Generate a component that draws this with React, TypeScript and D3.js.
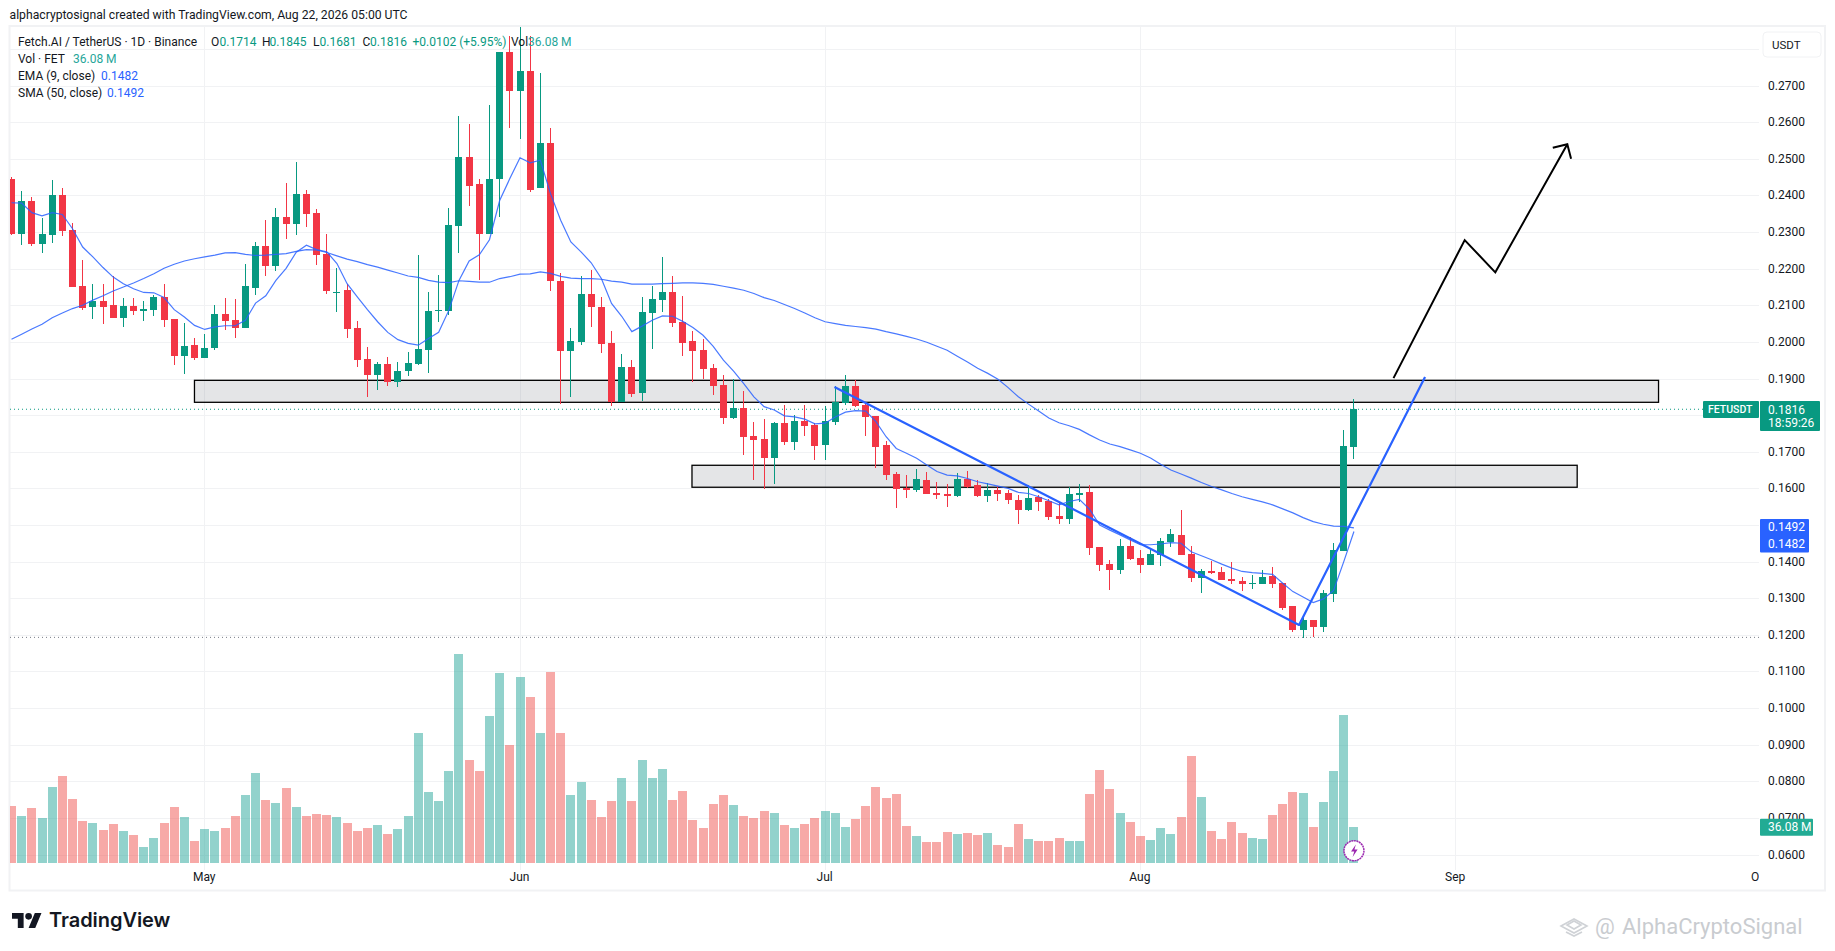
import React from 'react';
import * as d3 from 'd3';

// daily candles, first bar is Apr 12 (index 0), last is Aug 22 (index 132)
const opens = [
  0.2446, 0.2294, 0.2384, 0.2266, 0.2291, 0.2400, 0.2305, 0.2152, 0.2095, 0.2111,
  0.2100, 0.2065, 0.2097, 0.2084, 0.2086, 0.2122, 0.2062, 0.1961, 0.1991, 0.1955,
  0.1983, 0.2075, 0.2059, 0.2037, 0.2146, 0.2261, 0.2206, 0.2340, 0.2321, 0.2405,
  0.2351, 0.2239, 0.2135, 0.2141, 0.2037, 0.1953, 0.1909, 0.1939, 0.1890, 0.1920,
  0.1939, 0.1977, 0.2084, 0.2084, 0.2316, 0.2504, 0.2430, 0.2296, 0.2444, 0.2793,
  0.2686, 0.2741, 0.2419, 0.2542, 0.2166, 0.1975, 0.2000, 0.2130, 0.2095, 0.1996,
  0.1835, 0.1931, 0.1860, 0.2078, 0.2114, 0.2136, 0.2054, 0.2002, 0.1977, 0.1928,
  0.1882, 0.1792, 0.1819, 0.1743, 0.1735, 0.1683, 0.1778, 0.1726, 0.1784, 0.1773,
  0.1718, 0.1781, 0.1833, 0.1879, 0.1827, 0.1797, 0.1718, 0.1639, 0.1601, 0.1595,
  0.1623, 0.1587, 0.1585, 0.1579, 0.1625, 0.1609, 0.1579, 0.1595, 0.1587, 0.1568,
  0.1541, 0.1576, 0.1566, 0.1525, 0.1516, 0.1582, 0.1590, 0.1440, 0.1394, 0.1377,
  0.1443, 0.1410, 0.1391, 0.1418, 0.1454, 0.1473, 0.1421, 0.1356, 0.1375, 0.1372,
  0.1353, 0.1347, 0.1340, 0.1339, 0.1361, 0.1342, 0.1279, 0.1214, 0.1241, 0.1222,
  0.1312, 0.1429, 0.1714,
];
const highs = [
  0.2449, 0.2411, 0.2395, 0.2337, 0.2441, 0.2419, 0.2324, 0.2225, 0.2157, 0.2157,
  0.2179, 0.2119, 0.2119, 0.2111, 0.2127, 0.2157, 0.2062, 0.2051, 0.2010, 0.2021,
  0.2100, 0.2119, 0.2116, 0.2212, 0.2274, 0.2332, 0.2367, 0.2435, 0.2490, 0.2414,
  0.2362, 0.2294, 0.2201, 0.2157, 0.2056, 0.1986, 0.1945, 0.1958, 0.1945, 0.1972,
  0.2236, 0.2135, 0.2182, 0.2365, 0.2618, 0.2594, 0.2444, 0.2648, 0.2793, 0.2836,
  0.2859, 0.2836, 0.2735, 0.2585, 0.2187, 0.2037, 0.2179, 0.2195, 0.2122, 0.2029,
  0.1966, 0.1950, 0.2122, 0.2152, 0.2231, 0.2179, 0.2125, 0.2029, 0.2007, 0.1939,
  0.1909, 0.1898, 0.1865, 0.1781, 0.1789, 0.1781, 0.1827, 0.1800, 0.1827, 0.1778,
  0.1825, 0.1879, 0.1909, 0.1895, 0.1833, 0.1797, 0.1729, 0.1645, 0.1636, 0.1653,
  0.1645, 0.1617, 0.1612, 0.1642, 0.1647, 0.1623, 0.1615, 0.1606, 0.1595, 0.1582,
  0.1609, 0.1582, 0.1571, 0.1563, 0.1604, 0.1612, 0.1609, 0.1440, 0.1405, 0.1462,
  0.1467, 0.1432, 0.1435, 0.1465, 0.1489, 0.1541, 0.1443, 0.1380, 0.1402, 0.1386,
  0.1399, 0.1358, 0.1364, 0.1377, 0.1386, 0.1342, 0.1279, 0.1249, 0.1241, 0.1323,
  0.1451, 0.1759, 0.1845,
];
const lows = [
  0.2291, 0.2264, 0.2261, 0.2242, 0.2269, 0.2288, 0.2149, 0.2086, 0.2062, 0.2048,
  0.2065, 0.2040, 0.2073, 0.2056, 0.2070, 0.2040, 0.1936, 0.1912, 0.1950, 0.1955,
  0.1977, 0.2032, 0.2010, 0.2037, 0.2127, 0.2179, 0.2193, 0.2280, 0.2291, 0.2313,
  0.2209, 0.2130, 0.2081, 0.2010, 0.1931, 0.1849, 0.1868, 0.1879, 0.1876, 0.1906,
  0.1936, 0.1915, 0.2054, 0.2073, 0.2242, 0.2370, 0.2168, 0.2296, 0.2340, 0.2585,
  0.2553, 0.2408, 0.2419, 0.2138, 0.1830, 0.1849, 0.1991, 0.2040, 0.1969, 0.1826,
  0.1835, 0.1849, 0.1838, 0.1980, 0.2081, 0.2040, 0.1961, 0.1890, 0.1898, 0.1855,
  0.1775, 0.1789, 0.1691, 0.1623, 0.1598, 0.1612, 0.1718, 0.1705, 0.1743, 0.1677,
  0.1677, 0.1773, 0.1827, 0.1822, 0.1743, 0.1655, 0.1623, 0.1546, 0.1574, 0.1590,
  0.1585, 0.1571, 0.1549, 0.1576, 0.1601, 0.1576, 0.1563, 0.1566, 0.1557, 0.1503,
  0.1538, 0.1538, 0.1514, 0.1503, 0.1503, 0.1563, 0.1418, 0.1375, 0.1323, 0.1366,
  0.1405, 0.1369, 0.1391, 0.1388, 0.1440, 0.1418, 0.1345, 0.1315, 0.1366, 0.1350,
  0.1339, 0.1320, 0.1325, 0.1339, 0.1328, 0.1268, 0.1208, 0.1192, 0.1195, 0.1208,
  0.1290, 0.1429, 0.1681,
];
const closes = [
  0.2294, 0.2384, 0.2266, 0.2294, 0.2400, 0.2302, 0.2149, 0.2092, 0.2111, 0.2095,
  0.2065, 0.2097, 0.2084, 0.2089, 0.2122, 0.2059, 0.1961, 0.1988, 0.1955, 0.1983,
  0.2075, 0.2056, 0.2037, 0.2152, 0.2261, 0.2206, 0.2340, 0.2321, 0.2405, 0.2348,
  0.2236, 0.2138, 0.2137, 0.2035, 0.1950, 0.1909, 0.1939, 0.1890, 0.1920, 0.1942,
  0.1980, 0.2084, 0.2086, 0.2318, 0.2504, 0.2427, 0.2296, 0.2446, 0.2793, 0.2686,
  0.2741, 0.2416, 0.2542, 0.2166, 0.1975, 0.2002, 0.2130, 0.2095, 0.1994, 0.1835,
  0.1931, 0.1857, 0.2081, 0.2116, 0.2136, 0.2051, 0.1996, 0.1975, 0.1925, 0.1879,
  0.1792, 0.1819, 0.1740, 0.1732, 0.1683, 0.1778, 0.1726, 0.1784, 0.1770, 0.1716,
  0.1784, 0.1835, 0.1879, 0.1825, 0.1795, 0.1713, 0.1636, 0.1598, 0.1595, 0.1625,
  0.1585, 0.1582, 0.1579, 0.1625, 0.1604, 0.1579, 0.1595, 0.1585, 0.1568, 0.1541,
  0.1574, 0.1563, 0.1522, 0.1516, 0.1585, 0.1587, 0.1437, 0.1391, 0.1377, 0.1443,
  0.1407, 0.1391, 0.1421, 0.1457, 0.1476, 0.1418, 0.1356, 0.1375, 0.1369, 0.1350,
  0.1347, 0.1339, 0.1342, 0.1358, 0.1339, 0.1274, 0.1214, 0.1241, 0.1222, 0.1315,
  0.1432, 0.1716, 0.1816,
];
// volume in millions
const volumes = [
  57.3, 47.2, 55.3, 45.2, 76.5, 87.6, 64.4, 42.1, 40.1, 33.0,
  39.1, 32.0, 28.0, 15.8, 24.9, 40.1, 56.3, 46.2, 21.9, 34.0,
  32.0, 35.0, 47.2, 68.4, 90.7, 63.4, 60.3, 75.5, 56.3, 47.2,
  49.2, 48.2, 46.2, 40.1, 32.0, 35.0, 38.1, 29.0, 34.0, 47.2,
  131.1, 71.4, 62.3, 92.7, 211.0, 103.8, 92.7, 148.3, 191.8, 119.0,
  187.7, 167.5, 131.1, 192.8, 131.1, 68.4, 81.6, 63.4, 46.2, 62.3,
  85.6, 62.3, 103.8, 85.6, 94.7, 63.4, 72.5, 43.1, 35.0, 59.3,
  68.4, 58.3, 47.2, 45.2, 52.2, 50.2, 38.1, 35.0, 39.1, 45.2,
  52.2, 50.2, 36.1, 44.1, 57.3, 76.5, 65.4, 69.4, 37.1, 27.0,
  20.9, 20.9, 31.0, 29.0, 30.0, 28.0, 30.0, 17.9, 15.8, 39.1,
  23.9, 21.9, 21.9, 24.9, 21.9, 21.9, 69.4, 93.7, 74.5, 50.2,
  41.1, 27.0, 22.9, 35.0, 29.0, 46.2, 107.8, 66.4, 32.0, 23.9,
  41.1, 30.0, 24.9, 23.9, 48.2, 59.3, 71.4, 70.4, 36.1, 61.3,
  92.7, 149.3, 36.08,
];
const ema9 = [
  0.2380, 0.2379, 0.2353, 0.2344, 0.2353, 0.2348, 0.2309, 0.2259, 0.2232, 0.2203,
  0.2177, 0.2159, 0.2145, 0.2135, 0.2134, 0.2121, 0.2088, 0.2068, 0.2045, 0.2034,
  0.2041, 0.2044, 0.2044, 0.2059, 0.2106, 0.2126, 0.2168, 0.2201, 0.2245, 0.2264,
  0.2252, 0.2246, 0.2214, 0.2159, 0.2123, 0.2088, 0.2055, 0.2026, 0.2006, 0.1996,
  0.1991, 0.2009, 0.2026, 0.2086, 0.2168, 0.2221, 0.2238, 0.2279, 0.2386, 0.2446,
  0.2503, 0.2489, 0.2496, 0.2405, 0.2332, 0.2273, 0.2246, 0.2216, 0.2173, 0.2105,
  0.2070, 0.2028, 0.2043, 0.2059, 0.2071, 0.2070, 0.2056, 0.2039, 0.2018, 0.1988,
  0.1950, 0.1920, 0.1886, 0.1850, 0.1823, 0.1814, 0.1798, 0.1795, 0.1789, 0.1776,
  0.1778, 0.1795, 0.1808, 0.1812, 0.1811, 0.1782, 0.1741, 0.1709, 0.1696, 0.1682,
  0.1664, 0.1646, 0.1636, 0.1634, 0.1627, 0.1618, 0.1612, 0.1606, 0.1600, 0.1589,
  0.1586, 0.1577, 0.1566, 0.1555, 0.1564, 0.1570, 0.1543, 0.1500, 0.1486, 0.1473,
  0.1459, 0.1446, 0.1446, 0.1448, 0.1452, 0.1450, 0.1427, 0.1416, 0.1405, 0.1393,
  0.1382, 0.1373, 0.1370, 0.1368, 0.1365, 0.1341, 0.1318, 0.1303, 0.1288, 0.1298,
  0.1321, 0.1400, 0.1482,
];
const sma50 = [
  0.2007, 0.2021, 0.2035, 0.2048, 0.2066, 0.2079, 0.2091, 0.2100, 0.2114, 0.2126,
  0.2139, 0.2150, 0.2161, 0.2173, 0.2186, 0.2201, 0.2212, 0.2221, 0.2227, 0.2232,
  0.2237, 0.2243, 0.2244, 0.2239, 0.2236, 0.2237, 0.2239, 0.2241, 0.2247, 0.2252,
  0.2251, 0.2244, 0.2235, 0.2226, 0.2219, 0.2211, 0.2204, 0.2196, 0.2188, 0.2180,
  0.2176, 0.2168, 0.2163, 0.2162, 0.2167, 0.2165, 0.2163, 0.2163, 0.2173, 0.2178,
  0.2185, 0.2186, 0.2191, 0.2187, 0.2179, 0.2174, 0.2173, 0.2173, 0.2171, 0.2166,
  0.2163, 0.2158, 0.2158, 0.2158, 0.2159, 0.2160, 0.2161, 0.2161, 0.2160, 0.2157,
  0.2152, 0.2147, 0.2141, 0.2132, 0.2121, 0.2113, 0.2102, 0.2091, 0.2079, 0.2066,
  0.2055, 0.2050, 0.2045, 0.2042, 0.2039, 0.2035, 0.2028, 0.2022, 0.2015, 0.2008,
  0.1999, 0.1988, 0.1977, 0.1961, 0.1945, 0.1928, 0.1914, 0.1898, 0.1875, 0.1850,
  0.1830, 0.1811, 0.1792, 0.1779, 0.1771, 0.1761, 0.1746, 0.1732, 0.1721, 0.1714,
  0.1705, 0.1696, 0.1683, 0.1666, 0.1650, 0.1639, 0.1628, 0.1616, 0.1605, 0.1596,
  0.1586, 0.1577, 0.1570, 0.1563, 0.1555, 0.1544, 0.1533, 0.1520, 0.1509, 0.1502,
  0.1497, 0.1496, 0.1492,
];

const priceTicks = [0.27, 0.26, 0.25, 0.24, 0.23, 0.22, 0.21, 0.2, 0.19, 0.18, 0.17, 0.16, 0.15, 0.14, 0.13, 0.12, 0.11, 0.1, 0.09, 0.08, 0.07, 0.06];
// these two sit fully behind the price tags
const coveredTicks = [0.18, 0.15];
const monthTicks = [19, 50, 80, 111, 142, 172];
const monthLabels = ['May', 'Jun', 'Jul', 'Aug', 'Sep', 'Oct'];

// drawings, [bar index, price]
const zones = [
  { from: 18.04, to: 162, top: 0.1895, bottom: 0.1835 },
  { from: 66.96, to: 154, top: 0.1663, bottom: 0.1603 },
];
const blueTrend: [number, number][] = [[80.97, 0.1877], [126.65, 0.1227], [139.04, 0.1904]];
const blackPath: [number, number][] = [[135.94, 0.1901], [142.94, 0.2278], [145.95, 0.219], [153.03, 0.254]];
const blackHead: [number, number][] = [[151.6, 0.253], [153.03, 0.254], [153.4, 0.25]];

const UP = '#089981';
const DOWN = '#f23645';
const BLUE = '#2962ff';
const TEXT = '#131722';
const GRID = '#f1f2f4';
const FONT = 'Roboto, sans-serif';

const x = d3.scaleLinear().domain([0, 132]).range([11, 11 + 132 * 10.17]);
const y = d3.scaleLinear().domain([0.06, 0.19]).range([854.5, 378.5]);
const volY = d3.scaleLinear().domain([0, 211]).range([862.7, 654]);
const fmt = d3.format('.4f');

const pathLine = d3.line<[number, number]>().x(d => x(d[0])).y(d => y(d[1]));
const maLine = d3.line<number>().x((_, i) => x(i)).y(d => y(d));

const legendText = { fontFamily: FONT, fontSize: 12 };

export default function App() {
  const bars = d3.range(opens.length);
  const px = (i: number) => Math.round(x(i));
  const gridPrices = [0.28, ...priceTicks];

  return (
    <div style={{ position: 'absolute', left: 0, top: 0 }}>
      <svg width={1835} height={951} style={{ display: 'block', background: '#fff' }}>
        <defs>
          <clipPath id="pane">
            <rect x={10} y={27} width={1749} height={843} />
          </clipPath>
        </defs>

        <text x={9.5} y={19} fontFamily={FONT} fontSize={12.2} fill={TEXT}>alphacryptosignal created with TradingView.com, Aug 22, 2026 05:00 UTC</text>

        <rect x={9.5} y={26} width={1815.5} height={864.5} fill="none" stroke={GRID} strokeWidth={2} />

        {/* grid */}
        {gridPrices.map(p => (
          <line key={p} x1={10} x2={1759} y1={Math.round(y(p)) + 0.5} y2={Math.round(y(p)) + 0.5} stroke={GRID} strokeWidth={1} />
        ))}
        {monthTicks.map(m => (
          <line key={m} x1={px(m) + 0.5} x2={px(m) + 0.5} y1={27} y2={870} stroke={GRID} strokeWidth={1} clipPath="url(#pane)" />
        ))}

        <g clipPath="url(#pane)">
          {/* volume */}
          <g shapeRendering="crispEdges">
            {bars.map(i => (
              <rect
                key={i}
                x={px(i) - 4}
                y={volY(volumes[i])}
                width={9}
                height={volY(0) - volY(volumes[i])}
                fill={closes[i] >= opens[i] ? '#26a69a' : '#ef5350'}
                fillOpacity={0.5}
              />
            ))}
          </g>

          {/* zones */}
          {zones.map(z => (
            <rect
              key={z.from}
              x={x(z.from)}
              y={y(z.top)}
              width={x(z.to) - x(z.from)}
              height={y(z.bottom) - y(z.top)}
              fill="#787b86"
              fillOpacity={0.2}
              stroke="#000"
              strokeWidth={1.3}
            />
          ))}

          {/* last price lines */}
          <line x1={10} x2={1703} y1={y(0.1816)} y2={y(0.1816)} stroke={UP} strokeWidth={1} strokeDasharray="1 3" />
          <line x1={10} x2={1759} y1={y(0.1193)} y2={y(0.1193)} stroke="#787b86" strokeWidth={1} strokeDasharray="1 3" />

          {/* candles */}
          <g shapeRendering="crispEdges">
            {bars.map(i => {
              const col = closes[i] >= opens[i] ? UP : DOWN;
              const top = y(Math.max(opens[i], closes[i]));
              const bottom = y(Math.min(opens[i], closes[i]));
              return (
                <g key={i} fill={col}>
                  <rect x={px(i)} y={y(highs[i])} width={1} height={y(lows[i]) - y(highs[i])} />
                  <rect x={px(i) - 3} y={top} width={7} height={Math.max(bottom - top, 1)} />
                </g>
              );
            })}
          </g>

          {/* moving averages */}
          <path d={maLine(sma50) || ''} fill="none" stroke={BLUE} strokeOpacity={0.85} strokeWidth={1.2} transform="translate(0.5,0)" />
          <path d={maLine(ema9) || ''} fill="none" stroke={BLUE} strokeOpacity={0.85} strokeWidth={1.2} transform="translate(0.5,0)" />

          {/* drawings */}
          <path d={pathLine(blueTrend) || ''} fill="none" stroke={BLUE} strokeWidth={2.2} strokeLinejoin="round" />
          <path d={pathLine(blackPath) || ''} fill="none" stroke="#000" strokeWidth={2} strokeLinejoin="miter" />
          <path d={pathLine(blackHead) || ''} fill="none" stroke="#000" strokeWidth={2} strokeLinejoin="miter" />

          {/* lightning */}
          <circle cx={x(132) + 0.5} cy={850.7} r={10} fill="#fff" stroke="#9c27b0" strokeWidth={1.5} strokeDasharray="2 0.6" />
          <path d="M1355.4 844.5 L1350.6 851.5 L1353.8 851.5 L1352.2 857 L1357.2 849.5 L1354 849.5 Z" transform={`translate(${x(132) - 1353},0)`} fill="#9c27b0" />
        </g>

        {/* legend */}
        <g {...legendText} dominantBaseline="central">
          <text x={18} y={41.7} fill={TEXT}>Fetch.AI / TetherUS · 1D · Binance</text>
          <text x={211} y={41.7} fill={TEXT}>O</text>
          <text x={219.5} y={41.7} fill={UP}>0.1714</text>
          <text x={262} y={41.7} fill={TEXT}>H</text>
          <text x={269.5} y={41.7} fill={UP}>0.1845</text>
          <text x={313} y={41.7} fill={TEXT}>L</text>
          <text x={319.5} y={41.7} fill={UP}>0.1681</text>
          <text x={362.5} y={41.7} fill={TEXT}>C</text>
          <text x={370} y={41.7} fill={UP}>0.1816</text>
          <text x={412.5} y={41.7} fill={UP}>+0.0102 (+5.95%)</text>
          <text x={511} y={41.7} fill={TEXT}>Vol</text>
          <text x={528} y={41.7} fill="#26a69a">36.08 M</text>
          <text x={18} y={58.7} fill={TEXT}>Vol · FET</text>
          <text x={73} y={58.7} fill="#26a69a">36.08 M</text>
          <text x={18} y={75.7} fill={TEXT}>EMA (9, close)</text>
          <text x={101} y={75.7} fill={BLUE}>0.1482</text>
          <text x={18} y={92.7} fill={TEXT}>SMA (50, close)</text>
          <text x={107} y={92.7} fill={BLUE}>0.1492</text>
        </g>

        {/* price axis */}
        <g fontFamily={FONT} fontSize={12} fill={TEXT} dominantBaseline="central">
          {priceTicks.filter(p => !coveredTicks.includes(p)).map(p => (
            <text key={p} x={1768} y={y(p)}>{fmt(p)}</text>
          ))}
        </g>
        <rect x={1763} y={32} width={58} height={25} rx={4} fill="#fff" stroke={GRID} strokeWidth={1} />
        <text x={1772} y={44.5} fontFamily={FONT} fontSize={11.5} fill={TEXT} dominantBaseline="central">USDT</text>

        <rect x={1703} y={401} width={56} height={17} rx={1} fill={UP} />
        <text x={1708} y={409.5} fontFamily={FONT} fontSize={10.5} fontWeight={500} fill="#fff" dominantBaseline="central">FETUSDT</text>
        <rect x={1760} y={401} width={60} height={30} rx={1} fill={UP} />
        <text x={1768} y={409.5} fontFamily={FONT} fontSize={12} fill="#fff" dominantBaseline="central">{fmt(0.1816)}</text>
        <text x={1768} y={423} fontFamily={FONT} fontSize={12} fill="#fff" dominantBaseline="central">18:59:26</text>

        <rect x={1760} y={519} width={49} height={33.5} rx={1} fill={BLUE} />
        <text x={1768} y={527} fontFamily={FONT} fontSize={12} fill="#fff" dominantBaseline="central">{fmt(0.1492)}</text>
        <text x={1768} y={544} fontFamily={FONT} fontSize={12} fill="#fff" dominantBaseline="central">{fmt(0.1482)}</text>

        <rect x={1760} y={818.7} width={53} height={17} rx={1} fill="#22ab94" />
        <text x={1768} y={827.2} fontFamily={FONT} fontSize={12} fill="#fff" dominantBaseline="central">36.08 M</text>

        {/* time axis */}
        <svg x={0} y={868} width={1759} height={20} overflow="hidden">
          {monthTicks.map((m, k) => (
            <text key={m} x={x(m)} y={9} fontFamily={FONT} fontSize={12} fill={TEXT} textAnchor="middle" dominantBaseline="central">{monthLabels[k]}</text>
          ))}
        </svg>

        {/* footer */}
        <g transform="translate(12,909.7) scale(0.83)" fill={TEXT}>
          <path d="M14 22H7V11H0V4h14v18zM28 22h-8l7.5-18h8L28 22z" />
          <circle cx={20} cy={8} r={4} />
        </g>
        <text x={49} y={927} fontFamily="Inter, sans-serif" fontSize={20} fontWeight={600} letterSpacing={-0.05} fill={TEXT}>TradingView</text>

        {/* watermark */}
        <g fill="none" stroke="#cfd2d6" strokeWidth={1.6}>
          <path d="M1561 926 L1574 919 L1587 926 L1574 933 Z" />
          <path d="M1567 925 L1574 921 L1581 925 L1574 929 Z" />
          <path d="M1566 932 L1574 936 L1582 932" />
        </g>
        <text x={1595} y={934} fontFamily={FONT} fontSize={22} fill="#c9ccd0">@</text>
        <text x={1622} y={934} fontFamily={FONT} fontSize={22} fill="#c9ccd0">AlphaCryptoSignal</text>
      </svg>
    </div>
  );
}
